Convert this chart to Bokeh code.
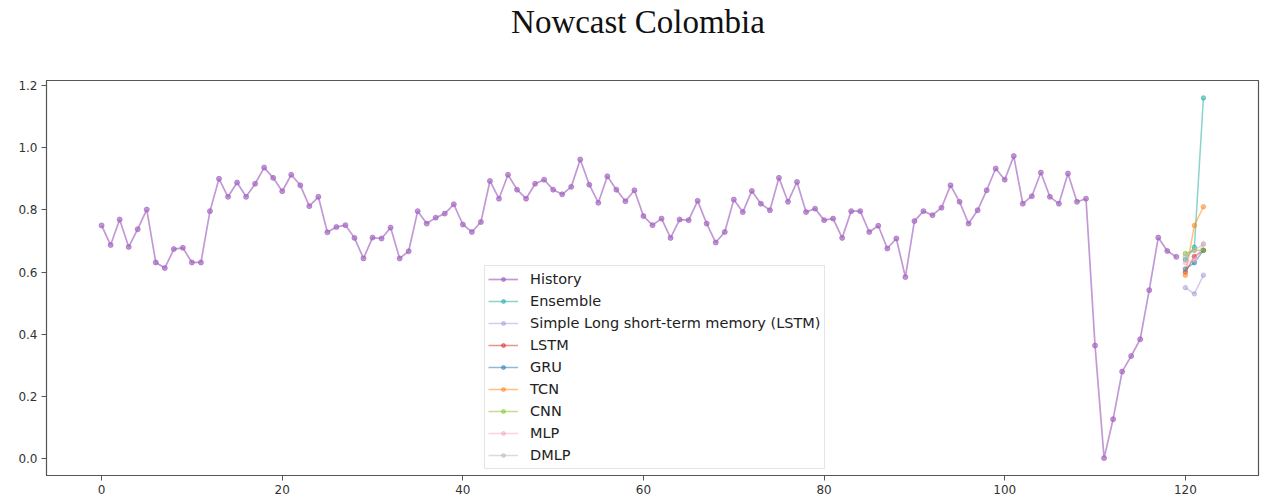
from bokeh.plotting import figure
from bokeh.layouts import column
from bokeh.models import Range1d, FixedTicker, Legend, LegendItem, Div, CustomJSTickFormatter
from bokeh.embed import file_html
from bokeh.resources import INLINE

title_text = "Nowcast Colombia"

history = [0.75, 0.687, 0.769, 0.681, 0.738, 0.801, 0.631, 0.613, 0.674, 0.678,
           0.631, 0.631, 0.796, 0.90, 0.842, 0.888, 0.842, 0.884, 0.936, 0.903,
           0.86, 0.913, 0.879, 0.812, 0.842, 0.728, 0.745, 0.751, 0.71, 0.644,
           0.711, 0.708, 0.743, 0.644, 0.667, 0.796, 0.756, 0.775, 0.788, 0.818,
           0.753, 0.729, 0.761, 0.893, 0.836, 0.913, 0.865, 0.836, 0.884, 0.897,
           0.865, 0.85, 0.874, 0.962, 0.881, 0.823, 0.908, 0.865, 0.828, 0.863,
           0.78, 0.751, 0.772, 0.71, 0.769, 0.767, 0.829, 0.756, 0.695, 0.729,
           0.833, 0.793, 0.861, 0.82, 0.799, 0.903, 0.826, 0.89, 0.793, 0.804,
           0.767, 0.772, 0.71, 0.796, 0.796, 0.729, 0.749, 0.676, 0.708, 0.584,
           0.764, 0.796, 0.783, 0.807, 0.879, 0.826, 0.756, 0.799, 0.863, 0.933,
           0.897, 0.973, 0.82, 0.844, 0.92, 0.842, 0.82, 0.917, 0.826, 0.836,
           0.364, 0.002, 0.127, 0.28, 0.33, 0.384, 0.542, 0.711, 0.668, 0.649]
history_x = list(range(len(history)))

forecast_x = [120, 121, 122]
model_names = ["Ensemble", "Simple Long short-term memory (LSTM)", "LSTM", "GRU",
               "TCN", "CNN", "MLP", "DMLP"]
ensemble = [0.64, 0.68, 1.16]
simple_lstm = [0.55, 0.53, 0.59]
lstm = [0.60, 0.65, 0.67]
gru = [0.61, 0.63, 0.67]
tcn = [0.59, 0.75, 0.81]
cnn = [0.66, 0.67, 0.67]
mlp = [0.63, 0.64, 0.69]
dmlp = [0.65, 0.67, 0.69]
model_values = [ensemble, simple_lstm, lstm, gru, tcn, cnn, mlp, dmlp]

history_color = "#a162bf"
model_colors = ["#17a89a", "#a89ad8", "#d62728", "#1f77b4", "#ff7f0e",
                "#7fc41e", "#f4a6c8", "#b8b8b8"]

x_ticks = [0, 20, 40, 60, 80, 100, 120]
y_ticks = [0.0, 0.2, 0.4, 0.6, 0.8, 1.0, 1.2]

title_div = Div(text=title_text, width=1262, height=44, margin=(0, 0, 0, 0),
                styles={"font-family": "'Liberation Serif', serif",
                        "font-size": "33px", "color": "#111111",
                        "text-align": "center", "line-height": "44px",
                        "text-indent": "14px", "width": "1262px"})

p = figure(width=1262, height=456, output_backend="svg", toolbar_location=None,
           x_range=Range1d(-6.1, 128.1), y_range=Range1d(-0.054, 1.216),
           min_border_left=46, min_border_right=4, min_border_top=36,
           min_border_bottom=25, margin=(0, 0, 0, 0))

p.xgrid.visible = False
p.ygrid.visible = False
p.outline_line_color = "#555555"
p.outline_line_width = 1.2
p.background_fill_color = "white"
p.border_fill_color = "white"

for ax in (p.xaxis[0], p.yaxis[0]):
    ax.axis_line_color = "#555555"
    ax.major_tick_line_color = "#555555"
    ax.major_tick_out = 5
    ax.major_tick_in = 0
    ax.minor_tick_line_color = None
    ax.major_label_text_font = "DejaVu Sans"
    ax.major_label_text_font_size = "12px"
    ax.major_label_text_color = "#333333"
    ax.major_label_standoff = 4
p.xaxis.ticker = FixedTicker(ticks=x_ticks)
p.yaxis.ticker = FixedTicker(ticks=y_ticks)
p.yaxis.formatter = CustomJSTickFormatter(code="return tick.toFixed(1);")

items = []
hl = p.line(history_x, history, line_color=history_color, line_width=1.7, line_alpha=0.65)
hs = p.scatter(history_x, history, size=5, fill_color=history_color,
               line_color=history_color, alpha=0.65)
items.append(LegendItem(label="History", renderers=[hl, hs]))
for name, vals, col in zip(model_names, model_values, model_colors):
    l = p.line(forecast_x, vals, line_color=col, line_width=1.5, line_alpha=0.5)
    s = p.scatter(forecast_x, vals, size=4.5, fill_color=col, line_color=col, alpha=0.5)
    items.append(LegendItem(label=name, renderers=[l, s]))

legend = Legend(items=items, location=(438, 6))
legend.label_text_font = "DejaVu Sans"
legend.label_text_font_size = "14.5px"
legend.label_text_color = "#222222"
legend.label_height = 20
legend.glyph_height = 10
legend.glyph_width = 30
legend.spacing = 2
legend.padding = 3
legend.margin = 0
legend.label_standoff = 12
legend.border_line_color = "#cccccc"
legend.border_line_width = 1
legend.background_fill_alpha = 0.85
p.add_layout(legend)

layout = column(title_div, p, spacing=0)
open("out.html", "w").write(file_html(layout, INLINE))
